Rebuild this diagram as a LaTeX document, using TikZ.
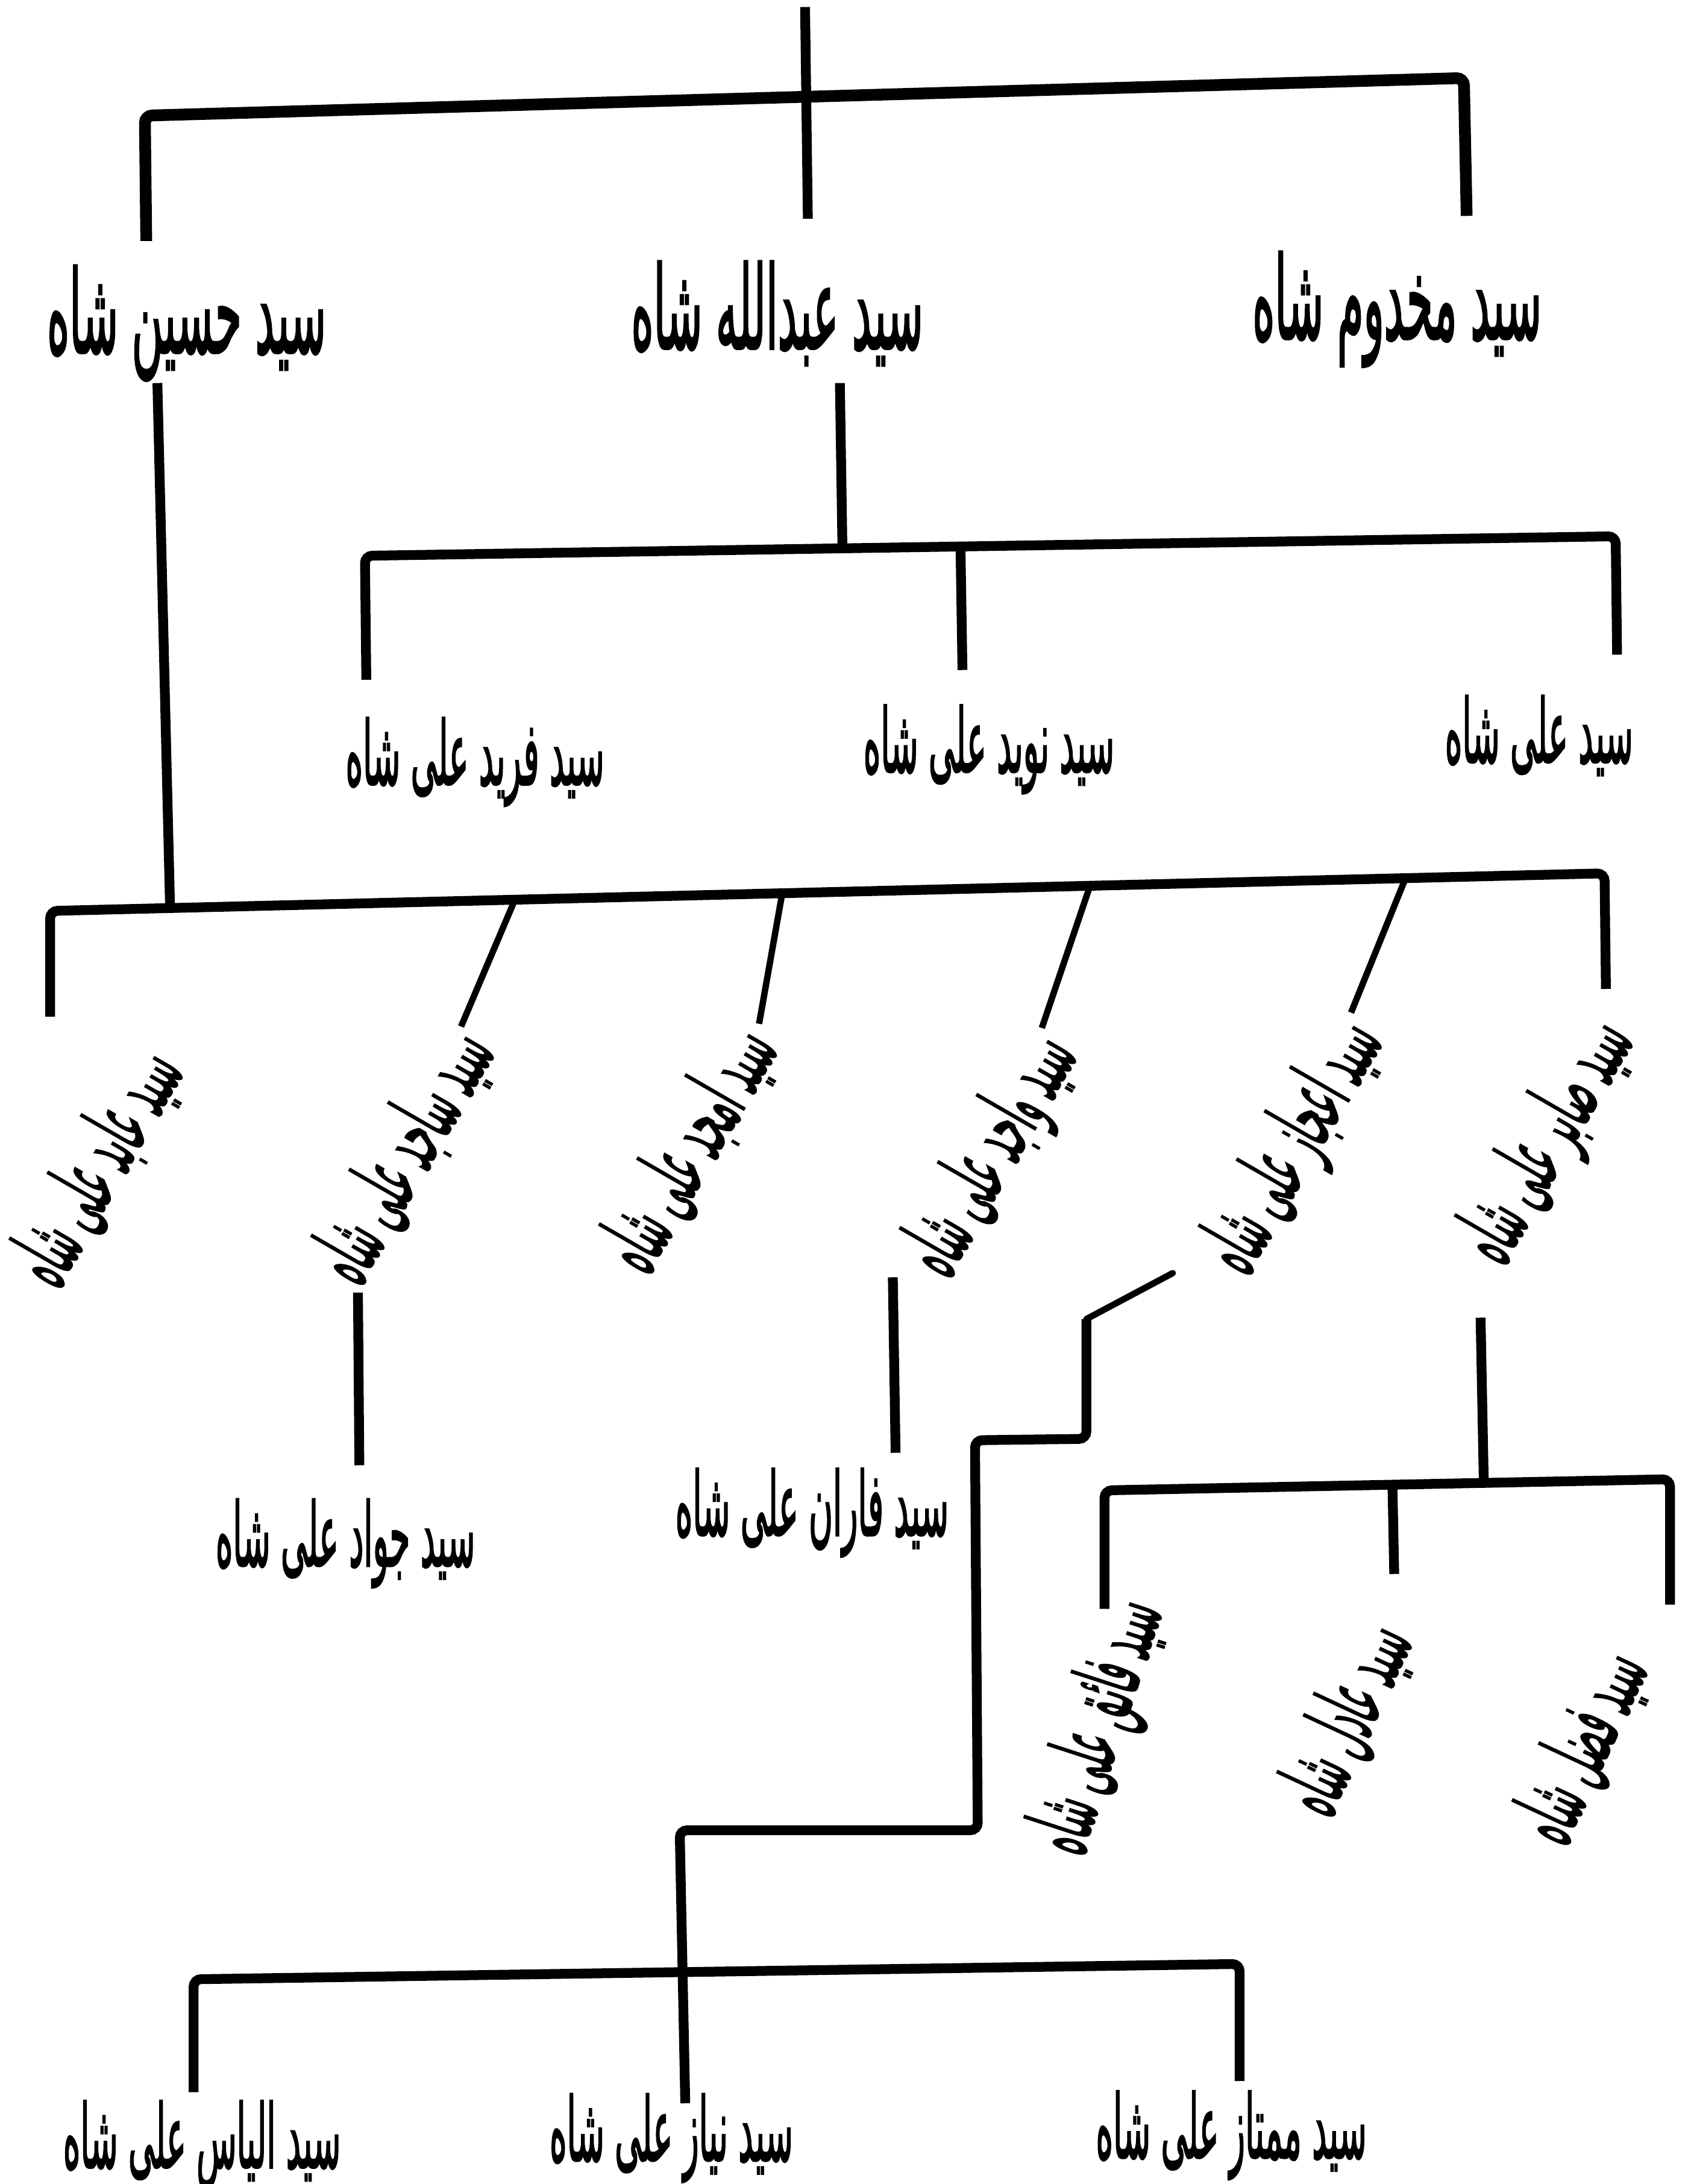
\documentclass[tikz,border=0pt]{standalone}
\usepackage{graphicx}
\usepackage{fontspec}
\newfontfamily\urdu[Script=Arabic,FakeBold=2.5]{DejaVu Sans}
\TeXXeTstate=1
\usetikzlibrary{calc}

\newcommand{\urname}[1]{\scalebox{0.67}[1.8]{\beginR #1\endR}}

\tikzset{
  link/.style={line width=2pt,rounded corners=1.5pt},
  heavy/.style={line width=2.4pt,rounded corners=1.5pt},
  slim/.style={line width=1.3pt},
  person/.style={font=\urdu\fontsize{10}{12}\selectfont,inner sep=0pt},
  elder/.style={font=\urdu\fontsize{13}{15}\selectfont,inner sep=0pt},
  upslant/.style={person,rotate=60},
}

\begin{document}
\begin{tikzpicture}[x=0.01cm,y=-0.01cm]
  \useasboundingbox (0,0) rectangle (1214,1568);

  \node[elder] (husain)   at (134,232)  {\urname{سید حسین شاه}};
  \node[elder] (abdullah) at (558,225)  {\urname{سید عبدالله شاه}};
  \node[elder] (makhdoom) at (1003,222) {\urname{سید مخدوم شاه}};

  \coordinate (root) at (578,5);
  \coordinate (abdullah-in) at (580,157);
  \coordinate (husain-in) at (105,173);
  \coordinate (makhdoom-in) at (1053,155);
  \draw[link] (root) -- (abdullah-in);
  \draw[heavy] (husain-in) -- (104,83) -- (1051,56) -- (makhdoom-in);

  \node[person] (farid)  at (341,547)  {\urname{سید فرید علی شاه}};
  \node[person] (naveed) at (710,538)  {\urname{سید نوید علی شاه}};
  \node[person] (ali)    at (1105,528) {\urname{سید علی شاه}};

  \coordinate (abdullah-out) at (603,275);
  \coordinate (bar1l) at (262,399);
  \coordinate (bar1r) at (1160,385);
  \coordinate (farid-in) at (263,488);
  \coordinate (naveed-in) at (691,481);
  \coordinate (ali-in) at (1161,470);
  \draw[link] (abdullah-out) -- ($(bar1l)!(abdullah-out)!(bar1r)$);
  \draw[link] (farid-in) -- (bar1l) -- (bar1r) -- (ali-in);
  \draw[link] ($(bar1l)!(naveed-in)!(bar1r)$) -- (naveed-in);

  \node[upslant] (abid)  at (70,838)   {\urname{سید عابد علی شاه}};
  \node[upslant] (sajid) at (290,830)  {\urname{سید ساجد علی شاه}};
  \node[upslant] (amjad) at (495,825)  {\urname{سید امجد علی شاه}};
  \node[upslant] (wajid) at (713,830)  {\urname{سید واجد علی شاه}};
  \node[upslant] (ijaz)  at (930,824)  {\urname{سید اعجاز علی شاه}};
  \node[upslant] (sabir) at (1112,820) {\urname{سید صابر علی شاه}};

  \coordinate (husain-out) at (113,275);
  \coordinate (bar2l) at (36,654);
  \coordinate (bar2r) at (1152,627);
  \coordinate (abid-in) at (36,730);
  \coordinate (sajid-in) at (331,737);
  \coordinate (amjad-in) at (545,735);
  \coordinate (wajid-in) at (748,738);
  \coordinate (ijaz-in) at (970,727);
  \coordinate (sabir-in) at (1153,710);
  \draw[link] (husain-out) -- ($(bar2l)!(husain-out)!(bar2r)$);
  \draw[link] (abid-in) -- (bar2l) -- (bar2r) -- (sabir-in);
  \draw[slim] ($(bar2l)!0.299!(bar2r)$) -- (sajid-in);
  \draw[slim] ($(bar2l)!0.471!(bar2r)$) -- (amjad-in);
  \draw[slim] ($(bar2l)!0.669!(bar2r)$) -- (wajid-in);
  \draw[slim] ($(bar2l)!0.872!(bar2r)$) -- (ijaz-in);

  \node[person] (jawad) at (248,1108) {\urname{سید جواد علی شاه}};
  \node[person] (faran) at (583,1086) {\urname{سید فاران علی شاه}};
  \coordinate (sajid-out) at (257,928);
  \coordinate (jawad-in) at (258,1052);
  \coordinate (wajid-out) at (641,917);
  \coordinate (faran-in) at (643,1043);
  \draw[link] (sajid-out) -- (jawad-in);
  \draw[link] (wajid-out) -- (faran-in);

  \node[person,rotate=72] (faiq) at (790,1240)  {\urname{سید فائق علی شاه}};
  \node[person,rotate=65] (adil) at (967,1234)  {\urname{سید عادل شاه}};
  \node[person,rotate=65] (fazl) at (1136,1254) {\urname{سید فضل شاه}};
  \coordinate (sabir-out) at (1063,946);
  \coordinate (bar3l) at (793,1070);
  \coordinate (bar3r) at (1199,1062);
  \coordinate (faiq-in) at (793,1155);
  \coordinate (adil-in) at (1001,1130);
  \coordinate (fazl-in) at (1199,1152);
  \draw[link] (sabir-out) -- ($(bar3l)!(sabir-out)!(bar3r)$);
  \draw[link] (faiq-in) -- (bar3l) -- (bar3r) -- (fazl-in);
  \draw[link] ($(bar3l)!(adil-in)!(bar3r)$) -- (adil-in);

  \node[person] (ilyas)  at (145,1540) {\urname{سید الیاس علی شاه}};
  \node[person] (niaz)   at (482,1535) {\urname{سید نیاز علی شاه}};
  \node[person] (mumtaz) at (884,1533) {\urname{سید ممتاز علی شاه}};
  \coordinate (ijaz-out) at (842,914);
  \coordinate (step) at (780,947);
  \coordinate (bar4l) at (139,1421);
  \coordinate (bar4r) at (890,1410);
  \coordinate (ilyas-in) at (139,1502);
  \coordinate (niaz-in) at (492,1510);
  \coordinate (mumtaz-in) at (890,1494);
  \draw[slim,line cap=round] (ijaz-out) -- (step);
  \draw[link] (step) -- (780,1033) -- (700,1034)
    -- (702,1314) -- (488,1314) -- (niaz-in);
  \draw[link] (ilyas-in) -- (bar4l) -- (bar4r) -- (mumtaz-in);
\end{tikzpicture}
\end{document}
